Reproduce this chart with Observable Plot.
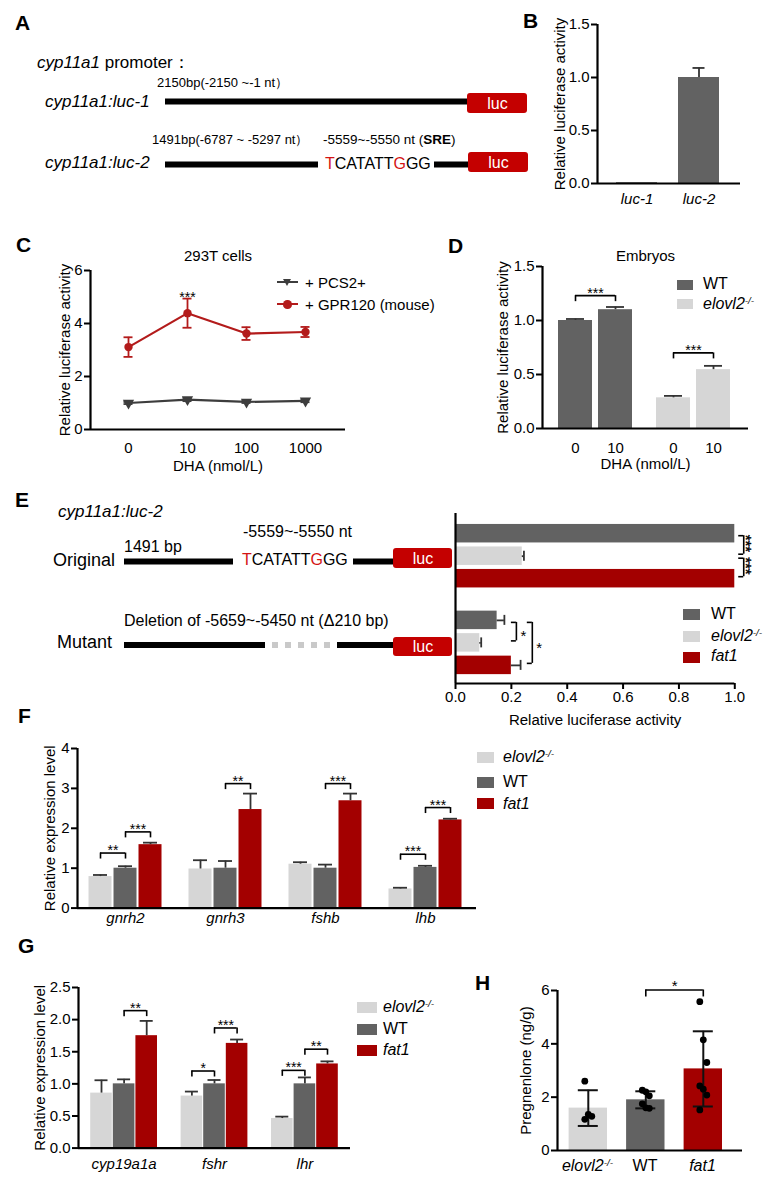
<!DOCTYPE html>
<html>
<head>
<meta charset="utf-8">
<script src="https://cdn.jsdelivr.net/npm/d3@7"></script>
<script src="https://cdn.jsdelivr.net/npm/@observablehq/plot@0.6"></script>
<style>
html,body{margin:0;padding:0;background:#fff;}
#fig{position:relative;width:768px;height:1186px;overflow:hidden;background:#fff;font-family:"Liberation Sans",Arial,Helvetica,sans-serif;color:#000;}
#fig .t{position:absolute;white-space:nowrap;line-height:1;}
#fig .sup{font-size:0.62em;vertical-align:0.55em;line-height:0;}
#fig svg{position:absolute;overflow:visible;}
</style>
</head>
<body>
<div id="fig"></div>
<script>
// ================= DATA =================
// Panel B
const bLabels = ["luc-1", "luc-2"];
const bMeans = [0.008, 1.0];
const bErrs = [0, 0.09];

// Panel C
const cDoses = ["0", "10", "100", "1000"];
const cSeriesNames = ["+ PCS2+", "+ GPR120 (mouse)"];
const cPcs2 = [1.0, 1.13, 1.04, 1.08];
const cPcs2Err = [0.04, 0.06, 0.04, 0.05];
const cGpr120 = [3.11, 4.39, 3.62, 3.68];
const cGpr120Err = [0.37, 0.55, 0.24, 0.19];
const cSig = [{dose: "10", label: "***"}];

// Panel D
const dGroups = ["WT", "elovl2-/-"];
const dDoses = ["0", "10"];
const dWT = [1.0, 1.1];
const dWTErr = [0.014, 0.025];
const dElovl2 = [0.284, 0.545];
const dElovl2Err = [0.018, 0.035];
const dSig = [{group: "WT", level: 1.23, label: "***"}, {group: "elovl2-/-", level: 0.70, label: "***"}];

// Panel E
const eConstructs = ["Original", "Mutant"];
const eGenotypes = ["WT", "elovl2-/-", "fat1"];
const eOriginal = [1.0, 0.239, 1.0];
const eOriginalErr = [0, 0.006, 0];
const eMutant = [0.149, 0.087, 0.2];
const eMutantErr = [0.026, 0.005, 0.033];
const eSig = [
  {construct: "Original", a: "WT", b: "elovl2-/-", level: 1.032, label: "***"},
  {construct: "Original", a: "elovl2-/-", b: "fat1", level: 1.032, label: "***"},
  {construct: "Mutant", a: "WT", b: "elovl2-/-", level: 0.218, label: "*"},
  {construct: "Mutant", a: "WT", b: "fat1", level: 0.275, label: "*"}
];

// Panel F
const fGenes = ["gnrh2", "gnrh3", "fshb", "lhb"];
const fGenotypes = ["elovl2-/-", "WT", "fat1"];
const fElovl2 = [0.79, 0.98, 1.10, 0.48];
const fElovl2Err = [0.04, 0.22, 0.05, 0.03];
const fWT = [1.0, 1.0, 1.0, 1.02];
const fWTErr = [0.05, 0.18, 0.09, 0.04];
const fFat1 = [1.59, 2.47, 2.69, 2.21];
const fFat1Err = [0.05, 0.40, 0.18, 0.03];
const fSig = [
  {gene: "gnrh2", a: "elovl2-/-", b: "WT", level: 1.38, label: "**"},
  {gene: "gnrh2", a: "WT", b: "fat1", level: 1.91, label: "***"},
  {gene: "gnrh3", a: "WT", b: "fat1", level: 3.12, label: "**"},
  {gene: "fshb", a: "WT", b: "fat1", level: 3.12, label: "***"},
  {gene: "lhb", a: "elovl2-/-", b: "WT", level: 1.35, label: "***"},
  {gene: "lhb", a: "WT", b: "fat1", level: 2.52, label: "***"}
];

// Panel G
const gGenes = ["cyp19a1a", "fshr", "lhr"];
const gGenotypes = ["elovl2-/-", "WT", "fat1"];
const gElovl2 = [0.856, 0.81, 0.46];
const gElovl2Err = [0.2, 0.07, 0.03];
const gWT = [1.0, 1.0, 1.0];
const gWTErr = [0.07, 0.06, 0.10];
const gFat1 = [1.75, 1.63, 1.31];
const gFat1Err = [0.23, 0.06, 0.04];
const gSig = [
  {gene: "cyp19a1a", a: "WT", b: "fat1", level: 2.14, label: "**"},
  {gene: "fshr", a: "elovl2-/-", b: "WT", level: 1.20, label: "*"},
  {gene: "fshr", a: "WT", b: "fat1", level: 1.87, label: "***"},
  {gene: "lhr", a: "elovl2-/-", b: "WT", level: 1.21, label: "***"},
  {gene: "lhr", a: "WT", b: "fat1", level: 1.54, label: "**"}
];

// Panel H
const hGenotypes = ["elovl2-/-", "WT", "fat1"];
const hMeans = [1.59, 1.9, 3.06];
const hSD = [0.67, 0.32, 1.41];
const hElovl2Points = [2.6, 1.35, 1.28, 1.17];
const hWTPoints = [2.26, 2.2, 2.05, 1.75, 1.6, 1.58];
const hFat1Points = [5.58, 4.15, 3.3, 2.42, 2.3, 2.08, 1.52];
const hSig = [{a: "WT", b: "fat1", level: 6.02, label: "*"}];

// ================= STYLE / HELPERS =================
const FONT = '"Liberation Sans", Arial, Helvetica, sans-serif';
const RED = "#a30000", DARK = "#626262", LIGHT = "#d6d6d6", ERR = "#333333";
const LUC_RED = "#c40000", SEQ_RED = "#d41414";
const AXW = 2.2;
const FILLS = {"WT": DARK, "elovl2-/-": LIGHT, "fat1": RED};
const STYLE = {fontFamily: FONT, fontSize: "15px", color: "#000", background: "transparent", overflow: "visible"};
const fig = document.getElementById("fig");

function put(node, left, top) {
  node.style.position = "absolute";
  node.style.left = left + "px";
  node.style.top = top + "px";
  fig.appendChild(node);
  return node;
}
function txt(x, y, html, o = {}) {
  const size = o.size || 15;
  const d = document.createElement("div");
  d.className = "t";
  d.innerHTML = html;
  d.style.fontSize = size + "px";
  if (o.bold) d.style.fontWeight = "bold";
  if (o.italic) d.style.fontStyle = "italic";
  if (o.color) d.style.color = o.color;
  d.style.left = x + "px";
  d.style.top = (y - 0.8465 * size) + "px";
  if (o.anchor === "middle") d.style.transform = "translateX(-50%)";
  if (o.anchor === "end") d.style.transform = "translateX(-100%)";
  fig.appendChild(d);
  return d;
}
function swatch(x, y, w, h, color, extra = "") {
  const d = document.createElement("div");
  d.style.cssText = `position:absolute;left:${x}px;top:${y}px;width:${w}px;height:${h}px;background:${color};${extra}`;
  fig.appendChild(d);
  return d;
}
const gname = g => g === "elovl2-/-" ? '<i>elovl2</i><span class="sup"><i>-/-</i></span>' : (g === "fat1" ? "<i>fat1</i>" : g);
function legend(names, boxX, boxTops, w, h, textX, baselines, size = 16) {
  names.forEach((n, i) => {
    swatch(boxX, boxTops[i], w, h, FILLS[n]);
    txt(textX, baselines[i], gname(n), {size});
  });
}

function errUp(rows, half) {
  const r = rows.filter(d => d.e > 0);
  return [
    Plot.ruleX(r, {x: "slot", y1: "m", y2: d => d.m + d.e, stroke: ERR, strokeWidth: 1.8}),
    Plot.ruleY(r, {y: d => d.m + d.e, x1: "slot", x2: "slot", insetLeft: -half, insetRight: -half, stroke: ERR, strokeWidth: 1.8})
  ];
}
function bracketsV(br, drop = 6, dy = 2, fs = 14) {
  return [
    Plot.ruleY(br, {y: "y", x1: "xa", x2: "xb", stroke: "#000", strokeWidth: 1.6}),
    Plot.ruleX(br, {x: "xa", y1: "y", y2: "y", insetBottom: -drop, stroke: "#000", strokeWidth: 1.6}),
    Plot.ruleX(br, {x: "xb", y1: "y", y2: "y", insetBottom: -drop, stroke: "#000", strokeWidth: 1.6}),
    Plot.text(br, {x: d => (d.xa + d.xb) / 2, y: "y", text: "label", lineAnchor: "bottom", dy, fontSize: fs})
  ];
}
function chartV(o) {
  const {left, right, top, bottom, yDomain, yTicks, yFmt, c0, step, marks, yTitle, yTitleX,
         ml = 62, mr = 12, mt = 24, mb = 56} = o;
  const xd = [(left - c0) / step, (right - c0) / step];
  const plot = Plot.plot({
    width: right - left + ml + mr, height: bottom - top + mt + mb,
    marginLeft: ml, marginRight: mr, marginTop: mt, marginBottom: mb,
    x: {domain: xd, axis: null},
    y: {domain: yDomain, axis: null},
    style: STYLE,
    marks: [
      ...marks,
      Plot.ruleX([xd[0]], {stroke: "#000", strokeWidth: AXW}),
      Plot.ruleY([yDomain[0]], {stroke: "#000", strokeWidth: AXW}),
      Plot.ruleY(yTicks, {y: d => d, x1: xd[0], x2: xd[0], insetLeft: -6, stroke: "#000", strokeWidth: 2}),
      Plot.text(yTicks, {y: d => d, text: d => yFmt(d), frameAnchor: "left", textAnchor: "end", dx: -8, fontSize: 15}),
      Plot.text([yTitle], {text: d => d, frameAnchor: "left", textAnchor: "middle", rotate: -90, dx: yTitleX - left, fontSize: 15})
    ]
  });
  put(plot, left - ml, top - mt);
  return {plot, svgLeft: left - ml, svgTop: top - mt};
}

// ================= SCHEMATICS (A, E) =================
const schemLines = [
  {x1: 165, x2: 467, y: 101}, {x1: 165, x2: 318, y: 164}, {x1: 434, x2: 468, y: 164},
  {x1: 124, x2: 233, y: 561}, {x1: 353, x2: 393, y: 561},
  {x1: 124, x2: 265, y: 644.5}, {x1: 337, x2: 393, y: 644.5}
];
const schemDeleted = [{x1: 272, x2: 334, y: 644.5}];
const lucBoxes = [
  {x1: 467, x2: 527, y1: 93, y2: 113, label: "luc"},
  {x1: 468, x2: 528, y1: 152, y2: 172, label: "luc"},
  {x1: 393, x2: 452, y1: 548, y2: 568, label: "luc"},
  {x1: 393, x2: 452, y1: 637, y2: 656, label: "luc"}
];
const schem = Plot.plot({
  width: 768, height: 1186, margin: 0,
  x: {type: "identity", axis: null}, y: {type: "identity", axis: null},
  style: STYLE,
  marks: [
    Plot.ruleY(schemLines, {y: "y", x1: "x1", x2: "x2", stroke: "#000", strokeWidth: 6}),
    Plot.ruleY(schemDeleted, {y: "y", x1: "x1", x2: "x2", stroke: "#c9c9c9", strokeWidth: 6, strokeDasharray: "6,7"}),
    Plot.rect(lucBoxes, {x1: "x1", x2: "x2", y1: "y1", y2: "y2", fill: LUC_RED, rx: 3}),
    Plot.text(lucBoxes, {x: d => (d.x1 + d.x2) / 2, y: d => (d.y1 + d.y2) / 2, text: "label", fill: "#fff", fontSize: 16})
  ]
});
put(schem, 0, 0);

const seq = `<span style="color:${SEQ_RED}">T</span>CATATT<span style="color:${SEQ_RED}">G</span>GG`;
// Panel letters
txt(15, 30, "A", {size: 21, bold: true});
txt(523, 28, "B", {size: 21, bold: true});
txt(16, 252, "C", {size: 21, bold: true});
txt(448, 253, "D", {size: 21, bold: true});
txt(15, 507, "E", {size: 21, bold: true});
txt(18, 723, "F", {size: 21, bold: true});
txt(18, 953, "G", {size: 21, bold: true});
txt(475, 990, "H", {size: 21, bold: true});
// A texts
txt(37, 68, "<i>cyp11a1</i> promoter：", {size: 17});
txt(157, 87, "2150bp(-2150 ~-1 nt）", {size: 13});
txt(45, 107, "<i>cyp11a1:luc-1</i>", {size: 17});
txt(152, 144, "1491bp(-6787 ~ -5297 nt）", {size: 13});
txt(323, 144, "-5559~-5550 nt (<b>SRE</b>)", {size: 13.5});
txt(45, 168, "<i>cyp11a1:luc-2</i>", {size: 17});
txt(325, 170, seq, {size: 16});
// E texts
txt(58, 517, "<i>cyp11a1:luc-2</i>", {size: 17});
txt(243, 538, "-5559~-5550 nt", {size: 16});
txt(124, 553, "1491 bp", {size: 16});
txt(53, 566, "Original", {size: 18});
txt(242, 566, seq, {size: 16});
txt(124, 627, "Deletion of -5659~-5450 nt (Δ210 bp)", {size: 16});
txt(57, 648, "Mutant", {size: 18});

// ================= B =================
{
  const rows = bLabels.map((label, i) => ({slot: i, label, m: bMeans[i], e: bErrs[i]}));
  chartV({left: 597, right: 740, top: 24, bottom: 183, yDomain: [0, 1.5], yTicks: [0, 0.5, 1, 1.5],
    yFmt: d3.format(".1f"), c0: 636.5, step: 62, yTitle: "Relative luciferase activity", yTitleX: 560,
    marks: [
      Plot.rect(rows, {x1: "slot", x2: "slot", y1: 0, y2: "m", fill: DARK, insetLeft: -20.5, insetRight: -20.5}),
      ...errUp(rows, 6),
      Plot.text(rows, {x: "slot", text: "label", frameAnchor: "bottom", lineAnchor: "bottom", dy: 20, fontStyle: "italic", fontSize: 15})
    ]});
}

// ================= C =================
{
  const series = [
    {name: cSeriesNames[0], m: cPcs2, e: cPcs2Err, color: "#3d3d3d", symbol: "triangle", rot: 180},
    {name: cSeriesNames[1], m: cGpr120, e: cGpr120Err, color: "#b31b1b", symbol: "circle", rot: 0}
  ];
  const marks = [];
  series.forEach(s => {
    const rows = cDoses.map((d, i) => ({slot: i, dose: d, m: s.m[i], e: s.e[i]}));
    marks.push(
      Plot.ruleX(rows, {x: "slot", y1: d => d.m - d.e, y2: d => d.m + d.e, stroke: s.color, strokeWidth: 1.8}),
      Plot.ruleY(rows, {y: d => d.m + d.e, x1: "slot", x2: "slot", insetLeft: -4.5, insetRight: -4.5, stroke: s.color, strokeWidth: 1.8}),
      Plot.ruleY(rows, {y: d => d.m - d.e, x1: "slot", x2: "slot", insetLeft: -4.5, insetRight: -4.5, stroke: s.color, strokeWidth: 1.8}),
      Plot.line(rows, {x: "slot", y: "m", stroke: s.color, strokeWidth: 2.2}),
      Plot.dot(rows, {x: "slot", y: "m", symbol: s.symbol, rotate: s.rot, r: 4.2, fill: s.color, stroke: "none"})
    );
  });
  const sigRows = cSig.map(s => {
    const i = cDoses.indexOf(s.dose);
    return {slot: i, y: cGpr120[i] + cGpr120Err[i], label: s.label};
  });
  const doseRows = cDoses.map((d, i) => ({slot: i, dose: d}));
  marks.push(
    Plot.text(sigRows, {x: "slot", y: "y", text: "label", lineAnchor: "bottom", dy: 3, fontSize: 14}),
    Plot.text(doseRows, {x: "slot", text: "dose", frameAnchor: "bottom", lineAnchor: "bottom", dy: 23, fontSize: 15}),
    Plot.text(["DHA (nmol/L)"], {text: d => d, frameAnchor: "bottom", lineAnchor: "bottom", dy: 41, fontSize: 15}),
    Plot.text(["293T cells"], {text: d => d, frameAnchor: "top", lineAnchor: "bottom", dy: -10, fontSize: 15})
  );
  chartV({left: 90, right: 345, top: 270, bottom: 429, yDomain: [0, 6], yTicks: [0, 2, 4, 6],
    yFmt: d3.format("d"), c0: 128, step: 59, yTitle: "Relative luciferase activity", yTitleX: 65, mt: 40, marks});
  // legend
  swatch(277, 281, 21, 2.4, series[0].color);
  swatch(283, 279, 0, 0, "transparent", `border-left:4.5px solid transparent;border-right:4.5px solid transparent;border-top:7px solid ${series[0].color};`);
  txt(305, 288, series[0].name, {size: 15});
  swatch(277, 303, 21, 2.4, series[1].color);
  swatch(283, 300, 8.5, 8.5, series[1].color, "border-radius:50%;");
  txt(305, 310, series[1].name, {size: 15});
}

// ================= D =================
{
  const gap = 0.45;
  const slot = (gi, di) => gi * (dDoses.length + gap) + di;
  const vals = [dWT, dElovl2], errs = [dWTErr, dElovl2Err];
  const rows = dGroups.flatMap((g, gi) => dDoses.map((d, di) => ({slot: slot(gi, di), g, dose: d, m: vals[gi][di], e: errs[gi][di], fill: FILLS[g]})));
  const br = dSig.map(s => {
    const gi = dGroups.indexOf(s.group);
    return {xa: slot(gi, 0), xb: slot(gi, 1), y: s.level, label: s.label};
  });
  chartV({left: 542, right: 748, top: 266, bottom: 428, yDomain: [0, 1.5], yTicks: [0, 0.5, 1, 1.5],
    yFmt: d3.format(".1f"), c0: 575, step: 40, yTitle: "Relative luciferase activity", yTitleX: 503, mt: 40,
    marks: [
      Plot.rect(rows, {x1: "slot", x2: "slot", y1: 0, y2: "m", fill: "fill", insetLeft: -17, insetRight: -17}),
      ...errUp(rows, 9),
      ...bracketsV(br, 6, 2, 14),
      Plot.text(rows, {x: "slot", text: "dose", frameAnchor: "bottom", lineAnchor: "bottom", dy: 24, fontSize: 15}),
      Plot.text(["DHA (nmol/L)"], {text: d => d, frameAnchor: "bottom", lineAnchor: "bottom", dy: 40, fontSize: 15}),
      Plot.text(["Embryos"], {text: d => d, frameAnchor: "top", lineAnchor: "bottom", dy: -6, fontSize: 15})
    ]});
  legend(dGroups, 677, [280, 299], 16, 10, 703, [290, 310], 16);
}

// ================= E chart =================
{
  const left = 455, right = 734.3, top = 513.3, bottom = 683.3;
  const c0 = 533.5, step = 22.5, gap = 0.853;
  const ml = 20, mr = 40, mt = 10, mb = 50;
  const slot = (ci, si) => ci * (eGenotypes.length + gap) + si;
  const yd = [(top - c0) / step, (bottom - c0) / step];
  const vals = [eOriginal, eMutant], errs = [eOriginalErr, eMutantErr];
  const rows = eConstructs.flatMap((c, ci) => eGenotypes.map((g, si) => ({slot: slot(ci, si), m: vals[ci][si], e: errs[ci][si], fill: FILLS[g]})));
  const rE = rows.filter(d => d.e > 0);
  const br = eSig.map(s => {
    const ci = eConstructs.indexOf(s.construct);
    return {ya: slot(ci, eGenotypes.indexOf(s.a)), yb: slot(ci, eGenotypes.indexOf(s.b)), x: s.level, label: s.label, vertical: s.label.length > 1};
  });
  const plot = Plot.plot({
    width: right - left + ml + mr, height: bottom - top + mt + mb,
    marginLeft: ml, marginRight: mr, marginTop: mt, marginBottom: mb,
    x: {domain: [0, 1]}, y: {domain: yd, reverse: true, axis: null},
    style: STYLE,
    marks: [
      Plot.rect(rows, {y1: "slot", y2: "slot", x1: 0, x2: "m", fill: "fill", insetTop: -9.25, insetBottom: -9.25}),
      Plot.ruleY(rE, {y: "slot", x1: "m", x2: d => d.m + d.e, stroke: ERR, strokeWidth: 1.8}),
      Plot.ruleX(rE, {x: d => d.m + d.e, y1: "slot", y2: "slot", insetTop: -5, insetBottom: -5, stroke: ERR, strokeWidth: 1.8}),
      Plot.ruleX(br, {x: "x", y1: "ya", y2: "yb", insetTop: 2, insetBottom: 2, stroke: "#000", strokeWidth: 1.6}),
      Plot.ruleY(br, {y: "ya", x1: "x", x2: "x", insetLeft: -5, dy: 2, stroke: "#000", strokeWidth: 1.6}),
      Plot.ruleY(br, {y: "yb", x1: "x", x2: "x", insetLeft: -5, dy: -2, stroke: "#000", strokeWidth: 1.6}),
      Plot.text(br.filter(d => d.vertical), {x: "x", y: d => (d.ya + d.yb) / 2, text: "label", rotate: 90, dx: 2.5, dy: -1.5, fontSize: 15, fill: "#000", stroke: "#000", strokeWidth: 0.4}),
      Plot.text(br.filter(d => !d.vertical), {x: "x", y: d => (d.ya + d.yb) / 2, text: "label", textAnchor: "start", dx: 4, dy: 5, fontSize: 15}),
      Plot.ruleX([0], {stroke: "#000", strokeWidth: AXW}),
      Plot.ruleY([yd[1]], {stroke: "#000", strokeWidth: AXW}),
      Plot.axisX({ticks: [0, 0.2, 0.4, 0.6, 0.8, 1.0], tickFormat: d3.format(".1f"), tickSize: 6, tickPadding: 2, fontSize: 15, strokeWidth: 2, label: null}),
      Plot.text(["Relative luciferase activity"], {text: d => d, frameAnchor: "bottom", lineAnchor: "bottom", dy: 725 - bottom, fontSize: 15})
    ]
  });
  put(plot, left - ml, top - mt);
  legend(eGenotypes, 683, [609, 631, 652], 17, 10.5, 711, [620, 642, 662], 16);
}

// ================= F / G =================
function geneChart(genes, genotypes, vals, errs, sigs, cfg) {
  const n = genotypes.length;
  const slot = (gi, si) => gi * (n + 1) + si;
  const rows = genes.flatMap((g, gi) => genotypes.map((t, si) => ({slot: slot(gi, si), gene: g, t, m: vals[si][gi], e: errs[si][gi], fill: FILLS[t]})));
  const labels = genes.map((g, gi) => ({slot: slot(gi, (n - 1) / 2), g}));
  const br = sigs.map(s => {
    const gi = genes.indexOf(s.gene);
    return {xa: slot(gi, genotypes.indexOf(s.a)), xb: slot(gi, genotypes.indexOf(s.b)), y: s.level, label: s.label};
  });
  chartV({...cfg, marks: [
    Plot.rect(rows, {x1: "slot", x2: "slot", y1: 0, y2: "m", fill: "fill", insetLeft: -cfg.half, insetRight: -cfg.half}),
    ...errUp(rows, cfg.cap),
    ...bracketsV(br, 6, 2, 14),
    Plot.text(labels, {x: "slot", text: "g", frameAnchor: "bottom", lineAnchor: "bottom", dy: cfg.labelDy, fontStyle: "italic", fontSize: 15})
  ]});
}
geneChart(fGenes, fGenotypes, [fElovl2, fWT, fFat1], [fElovl2Err, fWTErr, fFat1Err], fSig,
  {left: 77, right: 476, top: 747.7, bottom: 907.3, yDomain: [0, 4], yTicks: [0, 1, 2, 3, 4], yFmt: d3.format("d"),
   c0: 100, step: 25, half: 11.5, cap: 7, labelDy: 15, yTitle: "Relative expression level", yTitleX: 50});
legend(fGenotypes, 477, [752, 777, 798], 17, 11, 503, [763, 788, 810], 16);

geneChart(gGenes, gGenotypes, [gElovl2, gWT, gFat1], [gElovl2Err, gWTErr, gFat1Err], gSig,
  {left: 78, right: 350, top: 986.7, bottom: 1147.3, yDomain: [0, 2.5], yTicks: [0, 0.5, 1, 1.5, 2, 2.5], yFmt: d3.format(".1f"),
   c0: 101, step: 22.6, half: 10.8, cap: 6.5, labelDy: 21, yTitle: "Relative expression level", yTitleX: 40});
legend(gGenotypes, 357, [1002, 1024, 1045], 20, 10.5, 383, [1013, 1035, 1056], 16);

// ================= H =================
{
  const rows = hGenotypes.map((g, i) => ({slot: i, g, m: hMeans[i], e: hSD[i], fill: FILLS[g]}));
  const step = 57.5;
  const pts = [hElovl2Points, hWTPoints, hFat1Points].flatMap((arr, i) => arr.map((v, j) => ({slot: i, v, j})));
  const br = hSig.map(s => ({xa: hGenotypes.indexOf(s.a), xb: hGenotypes.indexOf(s.b), y: s.level, label: s.label}));
  const {plot, svgLeft} = chartV({left: 556.7, right: 741.7, top: 990, bottom: 1150, yDomain: [0, 6], yTicks: [0, 2, 4, 6],
    yFmt: d3.format("d"), c0: 587.5, step, yTitle: "Pregnenlone (ng/g)", yTitleX: 525,
    marks: [
      Plot.rect(rows, {x1: "slot", x2: "slot", y1: 0, y2: "m", fill: "fill", insetLeft: -19.2, insetRight: -19.2}),
      Plot.ruleX(rows, {x: "slot", y1: d => d.m - d.e, y2: d => d.m + d.e, stroke: "#111", strokeWidth: 2}),
      Plot.ruleY(rows, {y: d => d.m + d.e, x1: "slot", x2: "slot", insetLeft: -10, insetRight: -10, stroke: "#111", strokeWidth: 2}),
      Plot.ruleY(rows, {y: d => d.m - d.e, x1: "slot", x2: "slot", insetLeft: -10, insetRight: -10, stroke: "#111", strokeWidth: 2}),
      Plot.dot(pts, {x: d => d.slot + ((d.j % 3) - 1) * 3.5 / step, y: "v", r: 3.4, fill: "#000", stroke: "none"}),
      ...bracketsV(br, 7, 1, 15)
    ]});
  const xs = plot.scale("x");
  rows.forEach(r => txt(svgLeft + xs.apply(r.slot), 1172, gname(r.g), {size: 16, anchor: "middle"}));
}
</script>
</body>
</html>
